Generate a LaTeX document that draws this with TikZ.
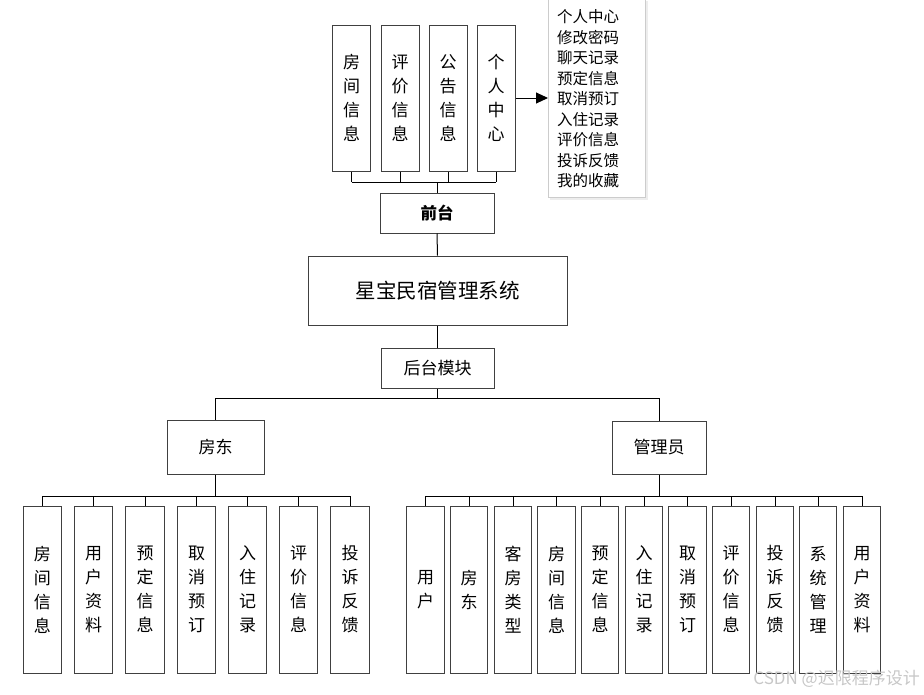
\documentclass[tikz,border=0pt]{standalone}
\usepackage{fontspec}
\setmainfont{Noto Sans CJK SC}
\usetikzlibrary{arrows.meta}
\tikzset{
  box/.style={draw=black!75, line width=1pt, rectangle, inner sep=0pt, align=center,
    font=\fontsize{17}{24}\selectfont},
  vbox/.style={box, minimum width=38pt, minimum height=#1},
  link/.style={draw=black, line width=1pt},
}
\begin{document}
\begin{tikzpicture}[x=1pt,y=-1pt]
\useasboundingbox (0,0) rectangle (924,694);
% top boxes
\node[vbox=146pt] (t1) at (351.5,98) {房\\间\\信\\息};
\node[vbox=146pt] (t2) at (400,98) {评\\价\\信\\息};
\node[vbox=146pt] (t3) at (448,98) {公\\告\\信\\息};
\node[vbox=146pt] (t4) at (496,98) {个\\人\\中\\心};
\node[box, minimum width=114pt, minimum height=40pt, font=\fontsize{16.5}{20}\selectfont\bfseries] (qt) at (437,213) {前台};
\node[box, minimum width=259pt, minimum height=69pt, font=\fontsize{20.5}{24}\selectfont] (sys) at (437.5,290.5) {星宝民宿管理系统};
\node[box, minimum width=113pt, minimum height=40pt] (ht) at (437.5,368) {后台模块};
\node[box, minimum width=97pt, minimum height=54pt] (fd) at (215.5,447) {房东};
\node[box, minimum width=94pt, minimum height=53pt] (gly) at (659,447.5) {管理员};
% panel
\fill[black!7] (550,1) rectangle (648,200);
\node[draw=black!20, fill=white, line width=0.6pt, minimum width=97pt, minimum height=199pt, anchor=north west, inner sep=0pt] (panel) at (548,-2) {};
\node[anchor=north west, align=left, inner sep=0pt, font=\fontsize{15.5}{20.5}\selectfont] (ptext) at (557,9.5) {个人中心\\修改密码\\聊天记录\\预定信息\\取消预订\\入住记录\\评价信息\\投诉反馈\\我的收藏};
\draw[link, -{Triangle[length=12pt,width=11pt]}] (t4.east|-0,98) -- (panel.west|-0,98);
% top bus
\foreach \n in {t1,t2,t3,t4} \draw[link] (\n.south) -- (\n.south|-0,182);
\draw[link] (t1.south|-0,182) -- (t4.south|-0,182);
\draw[link] (qt.north) -- (qt.north|-0,182);
\draw[link] (qt.south) -- (sys.north);
\draw[link] (sys.south) -- (ht.north);
% middle bus
\draw[link] (ht.south) -- (ht.south|-0,398);
\draw[link] (fd.north) -- (fd.north|-0,398) -- (gly.north|-0,398) -- (gly.north);
% landlord children
\foreach \x/\t [count=\i] in {42.5/房\\间\\信\\息, 93.5/用\\户\\资\\料, 145/预\\定\\信\\息, 196.5/取\\消\\预\\订, 247.5/入\\住\\记\\录, 298.5/评\\价\\信\\息, 350/投\\诉\\反\\馈} {
  \node[vbox=167pt, minimum width=38.5pt] (l\i) at (\x,589.5) {\t};
  \draw[link] (l\i.north) -- (l\i.north|-0,496);
}
\draw[link] (l1.north|-0,496) -- (l7.north|-0,496);
\draw[link] (fd.south) -- (fd.south|-0,496);
% admin children
\foreach \x/\t [count=\i] in {425.5/用\\户, 469/房\\东, 513/客\\房\\类\\型, 556.5/房\\间\\信\\息, 600/预\\定\\信\\息, 644/入\\住\\记\\录, 687.5/取\\消\\预\\订, 731/评\\价\\信\\息, 775/投\\诉\\反\\馈, 818/系\\统\\管\\理, 862/用\\户\\资\\料} {
  \node[vbox=167pt, minimum width=37.7pt] (r\i) at (\x,589.5) {\t};
  \draw[link] (r\i.north) -- (r\i.north|-0,496);
}
\draw[link] (r1.north|-0,496) -- (r11.north|-0,496);
\draw[link] (gly.south) -- (gly.south|-0,496);
% watermark
\node[text=black!22, font=\fontsize{17}{20}\selectfont, anchor=east, inner sep=0pt] (wm) at (920,679) {CSDN @迟限程序设计};
\end{tikzpicture}
\end{document}
